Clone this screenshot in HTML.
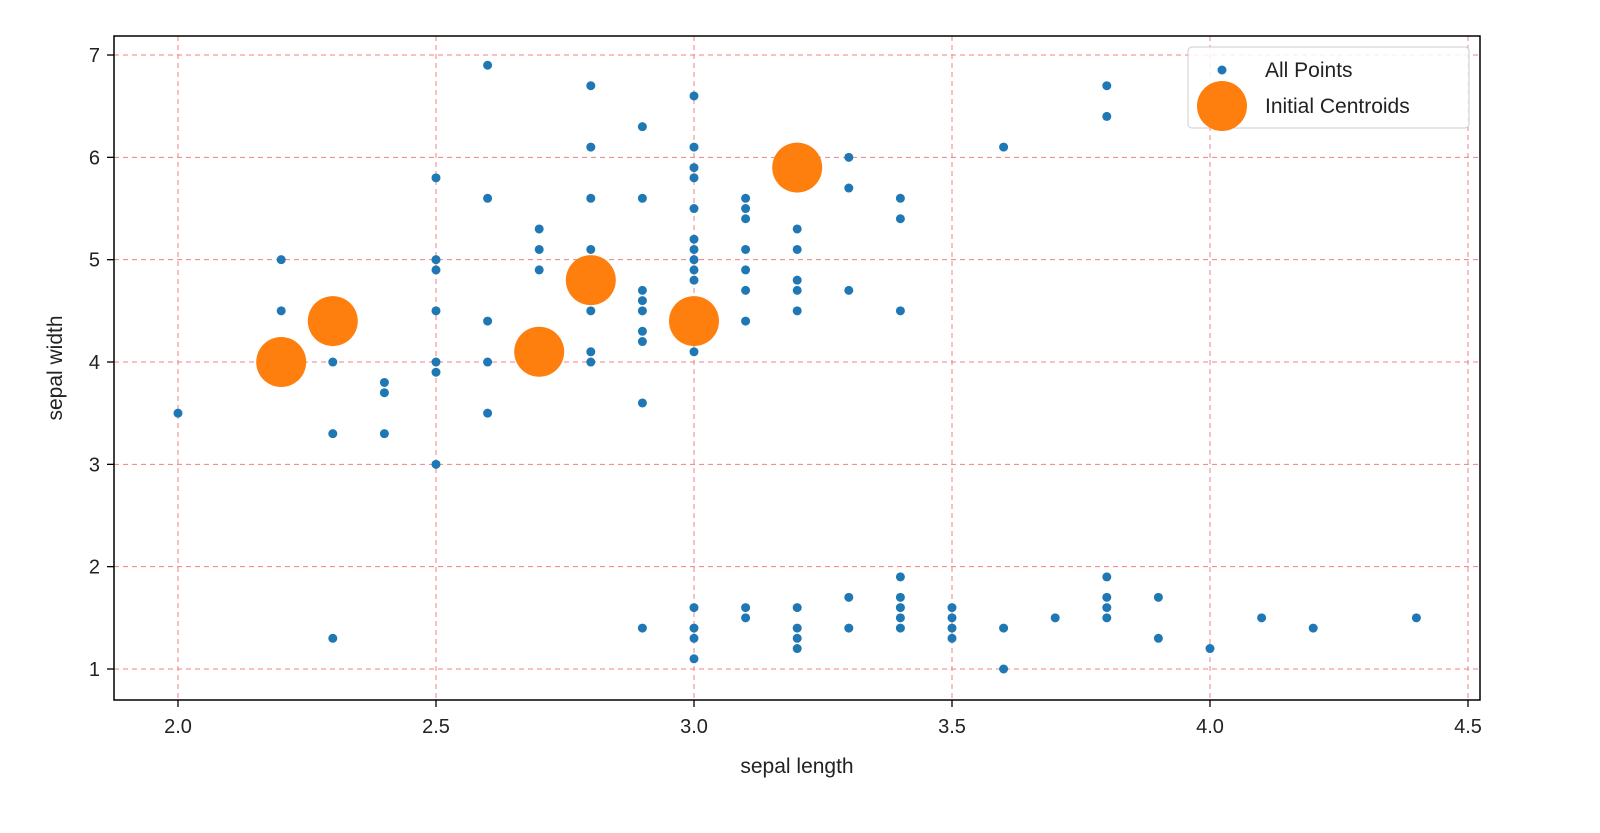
<!DOCTYPE html>
<html><head><meta charset="utf-8">
<style>
body{margin:0;background:#fff;}
svg text{font-family:"Liberation Sans","DejaVu Sans",sans-serif;fill:#222;}
</style></head>
<body>
<svg id="chart" width="1600" height="828" viewBox="0 0 1600 828" xmlns="http://www.w3.org/2000/svg">
<g id="grid"></g>
<g id="points"></g>
<g id="centroids"></g>
<rect x="114" y="36" width="1366" height="664" fill="none" stroke="#000" stroke-width="1.5"/>
<g id="ticks"></g>
<text x="797" y="773" font-size="21" text-anchor="middle">sepal length</text>
<text transform="translate(62,368) rotate(-90)" font-size="21" text-anchor="middle">sepal width</text>
<g>
<rect x="1188" y="47" width="281" height="81" rx="4" fill="#fff" fill-opacity="0.85" stroke="#ccc"/>
<circle cx="1222" cy="70" r="4.5" fill="#1f77b4"/>
<text x="1265" y="77" font-size="21">All Points</text>
<circle cx="1222" cy="106" r="25" fill="#ff7f0e"/>
<text x="1265" y="113" font-size="21">Initial Centroids</text>
</g>
</svg>
<script>
const pointX = [2.0,2.2,2.2,2.3,2.3,2.3,2.4,2.4,2.4,2.5,2.5,2.5,2.5,2.5,2.5,2.5,2.6,2.6,2.6,2.6,2.6,2.7,2.7,2.7,2.8,2.8,2.8,2.8,2.8,2.8,2.8,2.9,2.9,2.9,2.9,2.9,2.9,2.9,2.9,2.9,3.0,3.0,3.0,3.0,3.0,3.0,3.0,3.0,3.0,3.0,3.0,3.0,3.0,3.0,3.0,3.1,3.1,3.1,3.1,3.1,3.1,3.1,3.1,3.1,3.2,3.2,3.2,3.2,3.2,3.2,3.2,3.2,3.2,3.2,3.3,3.3,3.3,3.3,3.3,3.4,3.4,3.4,3.4,3.4,3.4,3.4,3.4,3.5,3.5,3.5,3.5,3.6,3.6,3.6,3.7,3.8,3.8,3.8,3.8,3.8,3.8,3.9,3.9,4.0,4.1,4.2,4.4];
const pointY = [3.5,5.0,4.5,4.0,3.3,1.3,3.8,3.7,3.3,5.8,5.0,4.9,4.5,4.0,3.9,3.0,6.9,5.6,4.4,4.0,3.5,5.3,5.1,4.9,6.7,6.1,5.6,5.1,4.5,4.1,4.0,6.3,5.6,4.7,4.6,4.5,4.3,4.2,3.6,1.4,6.6,6.1,5.9,5.8,5.5,5.2,5.1,5.0,4.9,4.8,4.1,1.6,1.4,1.3,1.1,5.6,5.5,5.4,5.1,4.9,4.7,4.4,1.6,1.5,5.9,5.3,5.1,4.8,4.7,4.5,1.6,1.4,1.3,1.2,6.0,5.7,4.7,1.7,1.4,5.6,5.4,4.5,1.9,1.7,1.6,1.5,1.4,1.6,1.5,1.4,1.3,6.1,1.4,1.0,1.5,6.7,6.4,1.9,1.7,1.6,1.5,1.7,1.3,1.2,1.5,1.4,1.5];
const centroidX = [2.2,2.3,2.7,2.8,3.0,3.2];
const centroidY = [4.0,4.4,4.1,4.8,4.4,5.9];
const xTicks = [2.0,2.5,3.0,3.5,4.0,4.5];
const xTickLabels = ["2.0","2.5","3.0","3.5","4.0","4.5"];
const yTicks = [1,2,3,4,5,6,7];
const yTickLabels = ["1","2","3","4","5","6","7"];

const NS="http://www.w3.org/2000/svg";
function sx(v){return 178+(v-2)*516;}
function sy(v){return 669-(v-1)*102.33;}
function mk(tag,attrs,parent){const e=document.createElementNS(NS,tag);for(const k in attrs)e.setAttribute(k,attrs[k]);parent.appendChild(e);return e;}
const grid=document.getElementById('grid'),ticks=document.getElementById('ticks');
xTicks.forEach((t,i)=>{
  const g=mk('line',{x1:sx(t),x2:sx(t),y1:36,y2:700,stroke:'#f08080','stroke-width':1,'stroke-dasharray':'5,4'},grid);
  
  
  const tk=mk('line',{x1:sx(t),x2:sx(t),y1:700,y2:707,stroke:'#000','stroke-width':1.3},ticks);
  
  
  const tx=mk('text',{x:sx(t),y:733,'font-size':20,'text-anchor':'middle'},ticks);
  tx.textContent=xTickLabels[i];
  
  
});
yTicks.forEach((t,i)=>{
  const g=mk('line',{x1:114,x2:1480,y1:sy(t),y2:sy(t),stroke:'#f08080','stroke-width':1,'stroke-dasharray':'5,4'},grid);
  
  
  const tk=mk('line',{x1:107,x2:114,y1:sy(t),y2:sy(t),stroke:'#000','stroke-width':1.3},ticks);
  
  
  const tx=mk('text',{x:100,y:sy(t)+7,'font-size':20,'text-anchor':'end'},ticks);
  tx.textContent=yTickLabels[i];
  
  
});
const pg=document.getElementById('points');
pointX.forEach((x,i)=>{
  const c=mk('circle',{cx:sx(x),cy:sy(pointY[i]),r:4.5,fill:'#1f77b4'},pg);
  
  
});
const cg=document.getElementById('centroids');
centroidX.forEach((x,i)=>{
  const c=mk('circle',{cx:sx(x),cy:sy(centroidY[i]),r:25,fill:'#ff7f0e'},cg);
  
  
});
</script>
</body></html>
